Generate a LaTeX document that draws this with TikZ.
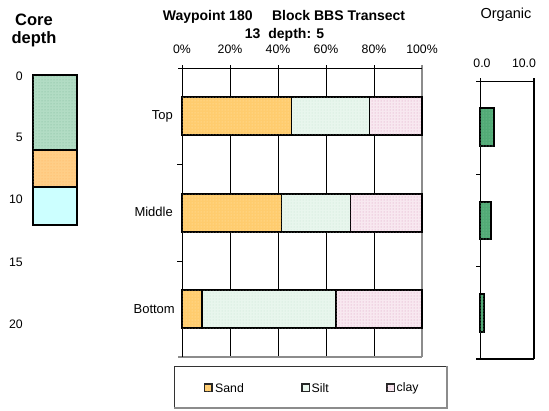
\documentclass[tikz,border=0pt]{standalone}
\usepackage{fontspec}
\setmainfont{Liberation Sans}
\usetikzlibrary{patterns}
\definecolor{sandbase}{RGB}{255,204,110}
\definecolor{sanddot}{RGB}{255,232,175}
\definecolor{siltbase}{RGB}{232,246,237}
\definecolor{siltdot}{RGB}{196,228,208}
\definecolor{claybase}{RGB}{248,232,240}
\definecolor{claydot}{RGB}{214,150,185}
\definecolor{coregreen}{RGB}{178,220,196}
\definecolor{coregreendot}{RGB}{125,185,152}
\definecolor{coreorange}{RGB}{255,206,135}
\definecolor{coreorangedot}{RGB}{255,180,90}
\definecolor{corecyan}{RGB}{204,255,255}
\definecolor{orggreen}{RGB}{82,170,118}
\definecolor{orgdot}{RGB}{130,205,160}
\definecolor{framegray}{RGB}{140,140,140}
\tikzset{
  lbl/.style={font=\fontsize{12.3}{14}\selectfont, inner sep=0pt},
  catlbl/.style={font=\fontsize{13}{15}\selectfont, inner sep=0pt, anchor=east},
  ttl/.style={font=\fontsize{14}{16}\selectfont\bfseries, inner sep=0pt},
  seg/.style={draw=black, line width=1.1pt},
  sandfill/.style={seg, fill=sandbase, postaction={pattern=dots, pattern color=sanddot}},
  siltfill/.style={seg, fill=siltbase, postaction={pattern=dots, pattern color=siltdot}},
  clayfill/.style={seg, fill=claybase, postaction={pattern=dots, pattern color=claydot}},
  keybox/.style={draw=black!85, line width=1.6pt},
  axisline/.style={line width=0.9pt, black},
  grayline/.style={line width=1.1pt, framegray},
}
\begin{document}
\begin{tikzpicture}[x=1pt, y=-1pt]
\useasboundingbox[fill=white] (0,0) rectangle (549,410);

% ---------- core column ----------
\node[ttl, font=\fontsize{16.5}{18}\selectfont\bfseries] (coreA) at (34,20) {Core};
\node[ttl, font=\fontsize{16.5}{18}\selectfont\bfseries] (coreB) at (34,39) {depth};
\foreach \d/\yy in {0/76,5/137,10/199,15/262,20/324}
  \node[lbl, anchor=east] (dep\d) at (23,\yy) {\d};
\draw[seg, fill=coregreen, postaction={pattern=dots, pattern color=coregreendot}] (33,75) rectangle (77,150);
\draw[seg, fill=coreorange, postaction={pattern=dots, pattern color=coreorangedot}] (33,150) rectangle (77,187);
\draw[seg, fill=corecyan] (33,187) rectangle (77,225);

% ---------- texture chart ----------
\node[ttl] (t1) at (284,17) {Waypoint 180\hspace{19.5pt}Block BBS Transect};
\node[ttl] (t2) at (284.5,35) {13\hspace{8pt}depth: 5};
\foreach \p/\xx in {0/182,20/230,40/278,60/326,80/374,100/422}
  \node[lbl] (pc\p) at (\xx,49) {\p\%};

% grid
\foreach \xx in {230,278,326,374}
  \draw[axisline] (\xx,65) -- (\xx,357);
\draw[grayline] (422,65) -- (422,357);
\draw[grayline] (178,357) -- (422,357);
\draw[axisline] (178,68) -- (422,68);
\draw[axisline] (182,65) -- (182,357);
\foreach \yy in {164,261}
  \draw[axisline] (177,\yy) -- (182,\yy);

% bars (x = 182 + 2.4 * percent)
\draw[sandfill] (182,97) rectangle (291.5,135);
\draw[siltfill] (291.5,97) rectangle (369.5,135);
\draw[clayfill] (369.5,97) rectangle (422,135);

\draw[sandfill] (182,194) rectangle (281.5,232);
\draw[siltfill] (281.5,194) rectangle (350.5,232);
\draw[clayfill] (350.5,194) rectangle (422,232);

\draw[sandfill] (182,290) rectangle (202,328);
\draw[siltfill] (202,290) rectangle (336,328);
\draw[clayfill] (336,290) rectangle (422,328);

\node[catlbl] (cTop) at (173,116) {Top};
\node[catlbl] (cMid) at (173,212) {Middle};
\node[catlbl] (cBot) at (175,309) {Bottom};

% legend
\draw[line width=0.9pt, black!80] (174,408) -- (174,366) -- (447,366);
\draw[grayline] (447,366) -- (447,408) -- (174,408);
\draw[keybox, fill=sandbase, postaction={pattern=dots, pattern color=sanddot}] (204.5,384) rectangle (212,391.5);
\node[lbl, anchor=west] (lgSand) at (215,388) {Sand};
\draw[keybox, fill=siltbase] (302,384) rectangle (309.5,391.5);
\node[lbl, anchor=west] (lgSilt) at (311.5,388) {Silt};
\draw[keybox, fill=claybase, postaction={pattern=dots, pattern color=claydot}] (387,384) rectangle (394.5,391.5);
\node[lbl, anchor=west] (lgClay) at (396.5,388) {clay};

% ---------- organic chart ----------
\node[lbl, font=\fontsize{14.5}{16}\selectfont] (org) at (506,15) {Organic};
\node[lbl] (o0) at (482,63) {0.0};
\node[lbl] (o10) at (524,63) {10.0};
\draw[axisline] (476,81) -- (534,81);
\draw[axisline] (480,78) -- (480,359);
\draw[line width=1.1pt] (534,78) -- (534,359);
\draw[line width=1.1pt] (476,359) -- (534,359);
\foreach \yy in {174,266}
  \draw[axisline] (476,\yy) -- (480,\yy);
\draw[seg, fill=orggreen, postaction={pattern=dots, pattern color=orgdot}] (480,108) rectangle (494,146);
\draw[seg, fill=orggreen, postaction={pattern=dots, pattern color=orgdot}] (480,202) rectangle (491,239);
\draw[seg, fill=orggreen, postaction={pattern=dots, pattern color=orgdot}] (480,294) rectangle (484,332);
\end{tikzpicture}
\end{document}
